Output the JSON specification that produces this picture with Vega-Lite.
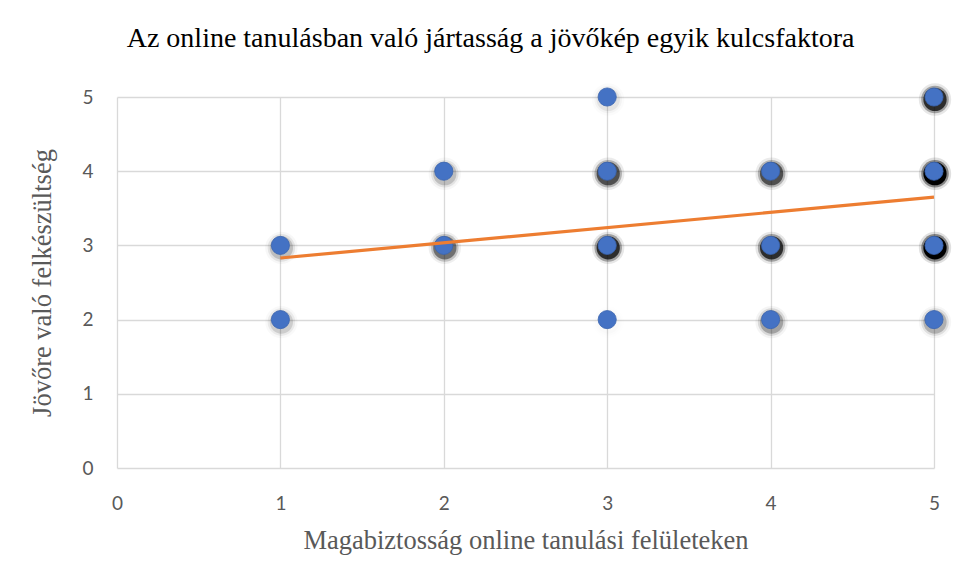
{
  "$schema": "https://vega.github.io/schema/vega-lite/v6.json",
  "autosize": {"type": "none"},
  "padding": {"left": 117, "top": 97, "right": 25, "bottom": 110},
  "width": 817,
  "height": 371,
  "background": "white",
  "title": {
    "text": "Az online tanulásban való jártasság a jövőkép egyik kulcsfaktora",
    "font": "Liberation Serif",
    "fontSize": 28,
    "fontWeight": "normal",
    "color": "#000000",
    "anchor": "middle",
    "frame": "bounds",
    "offset": 30
  },
  "config": {
    "view": {"stroke": null},
    "axis": {
      "domain": false,
      "ticks": false,
      "gridColor": "#d9d9d9",
      "gridWidth": 1.3,
      "labelFont": "Lato",
      "labelFontSize": 19,
      "labelColor": "#595959",
      "labelFlush": false,
      "format": "d",
      "titleFont": "Liberation Serif",
      "titleFontSize": 26.5,
      "titleFontWeight": "normal",
      "titleColor": "#595959"
    }
  },
  "resolve": {"scale": {"opacity": "independent"}},
  "datasets": {
    "pts": [
      {"x": 1, "y": 2, "s": 0.35},
      {"x": 1, "y": 3, "s": 0.4},
      {"x": 2, "y": 3, "s": 0.65},
      {"x": 2, "y": 4, "s": 0.4},
      {"x": 3, "y": 2, "s": 0.1},
      {"x": 3, "y": 3, "s": 0.85},
      {"x": 3, "y": 4, "s": 0.75},
      {"x": 3, "y": 5, "s": 0.25},
      {"x": 4, "y": 2, "s": 0.5},
      {"x": 4, "y": 3, "s": 0.85},
      {"x": 4, "y": 4, "s": 0.75},
      {"x": 5, "y": 2, "s": 0.45},
      {"x": 5, "y": 3, "s": 1},
      {"x": 5, "y": 4, "s": 1},
      {"x": 5, "y": 5, "s": 0.85}
    ],
    "trend": [
      {"x": 1, "y": 2.83},
      {"x": 5, "y": 3.65}
    ]
  },
  "layer": [
    {
      "data": {"name": "pts"},
      "mark": {"type": "circle", "color": "#000000", "size": 1050, "xOffset": 1, "yOffset": 2.5},
      "encoding": {
        "x": {
          "field": "x", "type": "quantitative",
          "scale": {"domain": [0, 5], "nice": false},
          "axis": {"values": [0, 1, 2, 3, 4, 5], "labelPadding": 26, "title": "Magabiztosság online tanulási felületeken", "titlePadding": 14}
        },
        "y": {
          "field": "y", "type": "quantitative",
          "scale": {"domain": [0, 5], "nice": false},
          "axis": {"values": [0, 1, 2, 3, 4, 5], "labelPadding": 24, "title": "Jövőre való felkészültség", "titlePadding": 25}
        },
        "opacity": {"field": "s", "type": "quantitative", "scale": {"type": "pow", "exponent": 1.5, "domain": [0, 1], "range": [0, 0.12]}, "legend": null}
      }
    },
    {
      "data": {"name": "pts"},
      "mark": {"type": "circle", "color": "#000000", "size": 760, "xOffset": 1, "yOffset": 2.5},
      "encoding": {
        "x": {"field": "x", "type": "quantitative"},
        "y": {"field": "y", "type": "quantitative"},
        "opacity": {"field": "s", "type": "quantitative", "scale": {"type": "pow", "exponent": 1.8, "domain": [0, 1], "range": [0, 0.4]}, "legend": null}
      }
    },
    {
      "data": {"name": "pts"},
      "mark": {"type": "circle", "color": "#000000", "size": 540, "xOffset": 1, "yOffset": 2.5},
      "encoding": {
        "x": {"field": "x", "type": "quantitative"},
        "y": {"field": "y", "type": "quantitative"},
        "opacity": {"field": "s", "type": "quantitative", "scale": {"type": "pow", "exponent": 2, "domain": [0, 1], "range": [0, 1]}, "legend": null}
      }
    },
    {
      "data": {"name": "pts"},
      "mark": {"type": "circle", "color": "#4472c4", "size": 330, "opacity": 1, "stroke": "#3a64b0", "strokeWidth": 0.8},
      "encoding": {
        "x": {"field": "x", "type": "quantitative"},
        "y": {"field": "y", "type": "quantitative"}
      }
    },
    {
      "data": {"name": "trend"},
      "mark": {"type": "line", "color": "#ed7d31", "strokeWidth": 3.2},
      "encoding": {
        "x": {"field": "x", "type": "quantitative"},
        "y": {"field": "y", "type": "quantitative"}
      }
    }
  ]
}
